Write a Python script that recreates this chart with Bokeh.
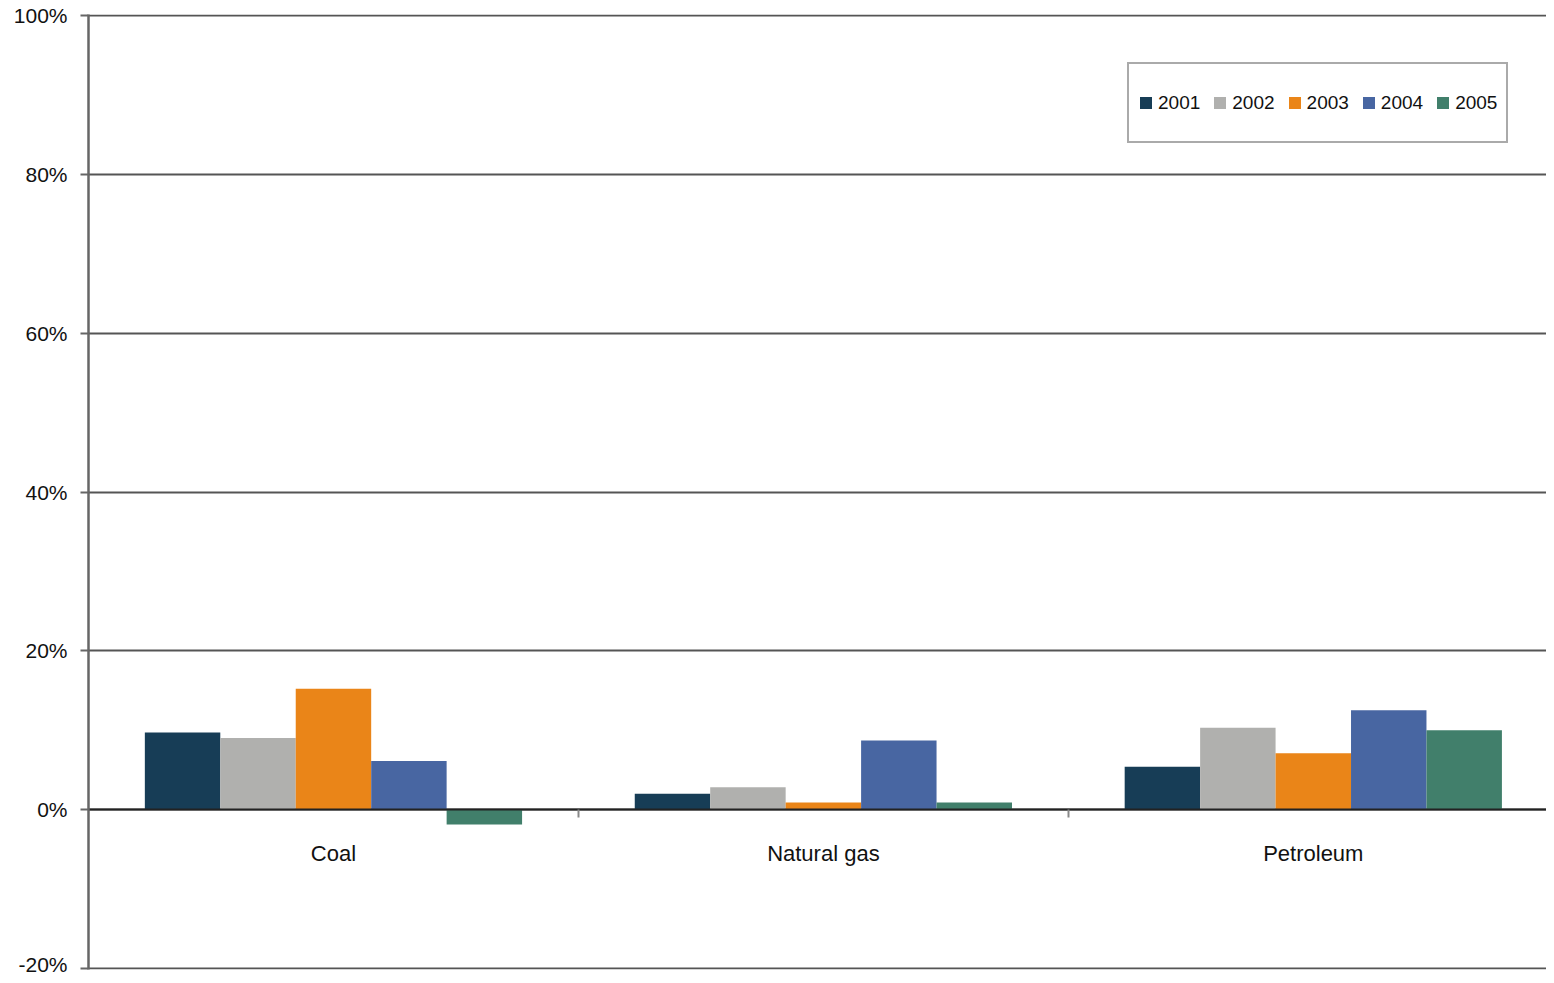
import numpy as np
from bokeh.plotting import figure
from bokeh.models import (ColumnDataSource, Range1d, FixedTicker, LinearAxis,
                          Legend, LegendItem, CustomJSTickFormatter, Grid)
from bokeh.embed import file_html
from bokeh.resources import INLINE

categories = ["Coal", "Natural gas", "Petroleum"]
years = ["2001", "2002", "2003", "2004", "2005"]
values = {
    "2001": [9.7, 2.0, 5.4],
    "2002": [9.0, 2.8, 10.3],
    "2003": [15.2, 0.9, 7.1],
    "2004": [6.1, 8.7, 12.5],
    "2005": [-1.9, 0.9, 10.0],
}
colors = ["#173d56", "#b0b0ae", "#ea8518", "#4866a2", "#417f6b"]
y_ticks = [-20, 0, 20, 40, 60, 80, 100]

FONT = "Liberation Sans"

p = figure(width=1546, height=975, output_backend="svg", toolbar_location=None,
           x_range=Range1d(0, 2.976), y_range=Range1d(-20.15, 100.15),
           min_border_left=88, min_border_right=0, min_border_top=14,
           min_border_bottom=6, x_axis_type=None, y_axis_type=None)
p.outline_line_color = None
p.background_fill_color = "white"

p.add_layout(Grid(dimension=1, ticker=FixedTicker(ticks=y_ticks),
                  grid_line_color="#555555", grid_line_width=2))

bar_w = 0.154
centers = np.arange(len(categories)) + 0.5
renderers = []
for j, (yr, col) in enumerate(zip(years, colors)):
    src = ColumnDataSource(dict(x=centers + (j - 2) * bar_w, top=values[yr]))
    r = p.vbar(x="x", top="top", bottom=0, width=bar_w, source=src,
               fill_color=col, line_color=None)
    renderers.append(r)

# y axis
yaxis = LinearAxis(ticker=FixedTicker(ticks=y_ticks))
yaxis.formatter = CustomJSTickFormatter(code="return tick + '%';")
yaxis.major_label_text_font = FONT
yaxis.major_label_text_font_size = "21px"
yaxis.major_label_text_color = "#111111"
yaxis.axis_line_color = "#666666"
yaxis.axis_line_width = 2.5
yaxis.major_tick_line_color = "#666666"
yaxis.major_tick_line_width = 2
yaxis.major_tick_out = 8
yaxis.major_tick_in = 0
yaxis.minor_tick_line_color = None
yaxis.major_label_standoff = 13
p.add_layout(yaxis, "left")

# x axis at zero
xaxis = LinearAxis(ticker=FixedTicker(ticks=list(centers), minor_ticks=[1, 2]))
xaxis.formatter = CustomJSTickFormatter(
    args=dict(names=categories),
    code="return names[Math.floor(tick)];")
xaxis.fixed_location = 0
xaxis.major_label_text_font = FONT
xaxis.major_label_text_font_size = "22px"
xaxis.major_label_text_color = "#111111"
xaxis.axis_line_color = "#222222"
xaxis.axis_line_width = 2
xaxis.major_tick_line_color = None
xaxis.minor_tick_line_color = "#888888"
xaxis.minor_tick_line_width = 2
xaxis.minor_tick_out = 8
xaxis.minor_tick_in = 0
xaxis.major_label_standoff = 23
p.add_layout(xaxis, "below")

legend = Legend(items=[LegendItem(label=yr, renderers=[r]) for yr, r in zip(years, renderers)],
                orientation="horizontal", location=(1039, 826))
legend.label_text_font = FONT
legend.label_text_font_size = "19px"
legend.label_text_color = "#111111"
legend.glyph_width = 15
legend.glyph_height = 15
legend.label_height = 59
legend.label_standoff = 5
legend.spacing = 12
legend.padding = 9
legend.border_line_color = "#555555"
legend.border_line_width = 2
legend.background_fill_alpha = 1
p.add_layout(legend, "center")

open("out.html", "w").write(file_html(p, INLINE))
